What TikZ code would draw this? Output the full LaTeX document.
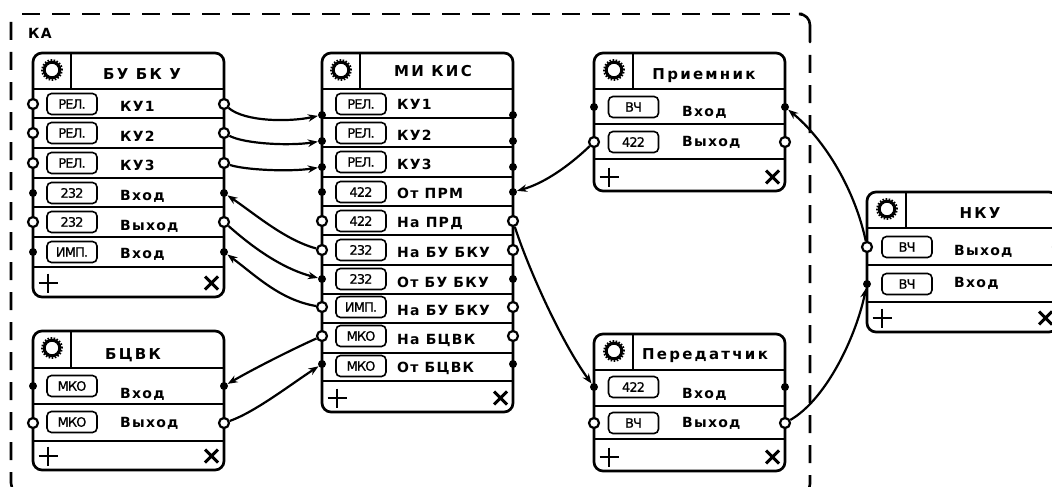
\documentclass[tikz,border=0pt]{standalone}
\usepackage{fontspec}
\setmainfont{DejaVu Sans}
\newfontfamily\lblf[LetterSpace=9]{DejaVu Sans}
\newfontfamily\ttlf[LetterSpace=15]{DejaVu Sans}
\newfontfamily\pillf[LetterSpace=-7,FakeBold=0.6]{DejaVu Sans}
\usetikzlibrary{arrows.meta}
\tikzset{
  outline/.style={line width=2.7pt,rounded corners=9pt},
  sep/.style={line width=2.4pt},
  rowline/.style={line width=1.6pt},
  pill/.style={draw,line width=1.6pt,rounded corners=4.5pt,minimum width=50pt,minimum height=21pt,inner sep=0pt,font=\pillf\fontsize{13}{14}\selectfont},
  lbl/.style={anchor=base west,inner sep=0pt,font=\lblf\bfseries\fontsize{14}{16}\selectfont},
  ttl/.style={anchor=base,inner sep=0pt,font=\ttlf\bfseries\fontsize{15}{17}\selectfont},
  popen/.style={circle,draw,fill=white,line width=2.2pt,minimum size=10pt,inner sep=0pt},
  pfill/.style={circle,fill=black,minimum size=8pt,inner sep=0pt},
  link/.style={line width=2.2pt,-{Stealth[length=10pt,width=7.5pt]}},
  frameline/.style={line width=2.6pt,dash pattern=on 18pt off 12pt,rounded corners=11pt}
}
% left, top, header bottom, bottom, divider x, row lines
\newcommand{\blk}[6]{%
  \draw[outline,fill=white] (#1,#2) rectangle ({#1+191},#4);
  \draw[sep] (#1,#3) -- ({#1+191},#3);
  \draw[sep] (#5,#2) -- (#5,#3);
  \foreach \yy in {#6} {\draw[rowline] (#1,\yy) -- ({#1+191},\yy);}
  \draw[line width=3pt] (#5-19,{#2+17}) circle (7.8pt);
  \draw[line width=1.8pt,dash pattern=on 1.6pt off 1.5pt] (#5-19,{#2+17}) circle (10pt);
  \draw[line width=2.6pt] ({#1+5.5},{#4-14}) -- ({#1+25},{#4-14}) ({#1+15},{#4-23.5}) -- ({#1+15},{#4-4.5});
  \draw[line width=2.9pt] ({#1+172},{#4-20.5}) -- ({#1+185},{#4-7.5}) ({#1+172},{#4-7.5}) -- ({#1+185},{#4-20.5});
}
\begin{document}
\begin{tikzpicture}[x=1pt,y=-1pt]
\useasboundingbox (0,0) rectangle (1052,487);
\clip (0,0) rectangle (1052,487);
\fill[white] (0,0) rectangle (1052,487);
\coordinate (ftl) at (22,14);
\coordinate (ftr) at (802,14);
\coordinate (fc) at (810,14);
\coordinate (frs) at (810,42);
\coordinate (frd) at (810,55);
\coordinate (fls) at (11,22);
\draw[frameline] (ftl) -- (ftr);
\draw[line width=2.6pt,rounded corners=11pt,line cap=round] (ftr) -- (fc) -- (frs);
\draw[frameline] (frd) -- (810,495) -- (780,495);
\draw[frameline] (fls) -- (11,494) -- (40,494);
\node[lbl] (ka) at (28,39) {КА};

% blocks
\blk{33}{53}{89}{297}{71}{118,148,178,207,237}
\draw[sep] (33,267) -- (224,267);
\blk{33}{331}{368}{470}{71}{404}
\draw[sep] (33,441) -- (224,441);
\blk{322}{53}{89}{412}{360}{118,147,177,206,235,265,294,323,353}
\draw[sep] (322,381) -- (513,381);
\blk{594}{53}{89}{191}{633}{124}
\draw[sep] (594,159) -- (785,159);
\blk{594}{334}{370}{471}{633}{406}
\draw[sep] (594,439) -- (785,439);
\blk{867}{192}{228}{332}{906}{265}
\draw[sep] (867,302) -- (1058,302);

% titles
\node[ttl] (t1) at (142,80) {БУ БК У};
\node[ttl] (t2) at (133,359) {БЦВК};
\node[ttl] (t3) at (433,77) {МИ КИС};
\node[ttl] (t4) at (704,79) {Приемник};
\node[ttl] (t5) at (705,359) {Передатчик};
\node[ttl] (t6) at (980,218) {НКУ};

% pills and labels: block 1
\node[pill] (p11) at (72,104) {РЕЛ.};
\node[pill] (p12) at (72,133) {РЕЛ.};
\node[pill] (p13) at (72,163) {РЕЛ.};
\node[pill] (p14) at (72,193) {232};
\node[pill] (p15) at (72,222) {232};
\node[pill] (p16) at (72,252) {ИМП.};
\node[lbl] (l11) at (120,111) {КУ1};
\node[lbl] (l12) at (120,141) {КУ2};
\node[lbl] (l13) at (120,170) {КУ3};
\node[lbl] (l14) at (120,200) {Вход};
\node[lbl] (l15) at (120,230) {Выход};
\node[lbl] (l16) at (120,258) {Вход};
% block 2
\node[pill] (p21) at (72,386) {МКО};
\node[pill] (p22) at (72,422) {МКО};
\node[lbl] (l21) at (120,398) {Вход};
\node[lbl] (l22) at (120,427) {Выход};
% block 3
\node[pill] (p31) at (361,104) {РЕЛ.};
\node[pill] (p32) at (361,133) {РЕЛ.};
\node[pill] (p33) at (361,162) {РЕЛ.};
\node[pill] (p34) at (361,192) {422};
\node[pill] (p35) at (361,221) {422};
\node[pill] (p36) at (361,250) {232};
\node[pill] (p37) at (361,279) {232};
\node[pill] (p38) at (361,307) {ИМП.};
\node[pill] (p39) at (361,336) {МКО};
\node[pill] (p310) at (361,366) {МКО};
\node[lbl] (l31) at (397,110) {КУ1};
\node[lbl] (l32) at (397,140) {КУ2};
\node[lbl] (l33) at (397,169) {КУ3};
\node[lbl] (l34) at (397,198) {От ПРМ};
\node[lbl] (l35) at (397,227) {На ПРД};
\node[lbl] (l36) at (397,257) {На БУ БКУ};
\node[lbl] (l37) at (397,287) {От БУ БКУ};
\node[lbl] (l38) at (397,315) {На БУ БКУ};
\node[lbl] (l39) at (397,344) {На БЦВК};
\node[lbl] (l310) at (397,372) {От БЦВК};
% block 4
\node[pill] (p41) at (633.5,107) {ВЧ};
\node[pill] (p42) at (633.5,142) {422};
\node[lbl] (l41) at (682,116) {Вход};
\node[lbl] (l42) at (682,146) {Выход};
% block 5
\node[pill] (p51) at (633.5,387) {422};
\node[pill] (p52) at (633.5,423) {ВЧ};
\node[lbl] (l51) at (682,398) {Вход};
\node[lbl] (l52) at (682,427) {Выход};
% block 6
\node[pill] (p61) at (907,247) {ВЧ};
\node[pill] (p62) at (907,284) {ВЧ};
\node[lbl] (l61) at (954,255) {Выход};
\node[lbl] (l62) at (954,287) {Вход};

% ports
\node[popen] (a1l) at (33,104) {}; \node[popen] (a1r) at (224,104) {};
\node[popen] (a2l) at (33,133) {}; \node[popen] (a2r) at (224,133) {};
\node[popen] (a3l) at (33,163) {}; \node[popen] (a3r) at (224,163) {};
\node[pfill] (a4l) at (33,193) {}; \node[pfill] (a4r) at (224,193) {};
\node[popen] (a5l) at (33,222) {}; \node[popen] (a5r) at (224,222) {};
\node[pfill] (a6l) at (33,252) {}; \node[pfill] (a6r) at (224,252) {};
\node[pfill] (b1l) at (33,386) {}; \node[pfill] (b1r) at (224,386) {};
\node[popen] (b2l) at (33,423) {}; \node[popen] (b2r) at (224,423) {};
\node[pfill] (c1l) at (322,115) {}; \node[pfill] (c1r) at (513,115) {};
\node[pfill] (c2l) at (322,141) {}; \node[pfill] (c2r) at (513,141) {};
\node[pfill] (c3l) at (322,167) {}; \node[pfill] (c3r) at (513,167) {};
\node[pfill] (c4l) at (322,192) {}; \node[pfill] (c4r) at (513,192) {};
\node[popen] (c5l) at (322,221) {}; \node[popen] (c5r) at (513,221) {};
\node[popen] (c6l) at (322,250) {}; \node[popen] (c6r) at (513,250) {};
\node[pfill] (c7l) at (322,279) {}; \node[pfill] (c7r) at (513,279) {};
\node[popen] (c8l) at (322,307) {}; \node[popen] (c8r) at (513,307) {};
\node[popen] (c9l) at (322,336) {}; \node[popen] (c9r) at (513,336) {};
\node[pfill] (c10l) at (322,364) {}; \node[pfill] (c10r) at (513,364) {};
\node[pfill] (d1l) at (594,107) {}; \node[pfill] (d1r) at (785,107) {};
\node[popen] (d2l) at (594,142) {}; \node[popen] (d2r) at (785,142) {};
\node[pfill] (e1l) at (594,387) {}; \node[pfill] (e1r) at (785,387) {};
\node[popen] (e2l) at (594,423) {}; \node[popen] (e2r) at (785,423) {};
\node[popen] (f1l) at (867,247) {}; \node[popen] (f1r) at (1058,247) {};
\node[pfill] (f2l) at (867,284) {};

% connectors
\draw[link] (a1r) .. controls (245,122) and (290,122) .. (c1l);
\draw[link] (a2r) .. controls (245,144) and (290,146) .. (c2l);
\draw[link] (a3r) .. controls (245,170) and (290,172) .. (c3l);
\draw[link] (c6l) .. controls (285,240) and (255,214) .. (a4r);
\draw[link] (a5r) .. controls (250,245) and (280,268) .. (c7l);
\draw[link] (c8l) .. controls (280,300) and (255,275) .. (a6r);
\draw[link] (c9l) .. controls (295,348) and (255,368) .. (b1r);
\draw[link] (b2r) .. controls (255,412) and (290,385) .. (c10l);
\draw[link] (d2l) .. controls (570,165) and (545,183) .. (c4r);
\draw[link] (c5r) .. controls (527,265) and (560,340) .. (e1l);
\draw[link] (f1l) .. controls (855,190) and (825,140) .. (d1r);
\draw[link] (e2r) .. controls (825,400) and (855,340) .. (f2l);
\end{tikzpicture}
\end{document}
